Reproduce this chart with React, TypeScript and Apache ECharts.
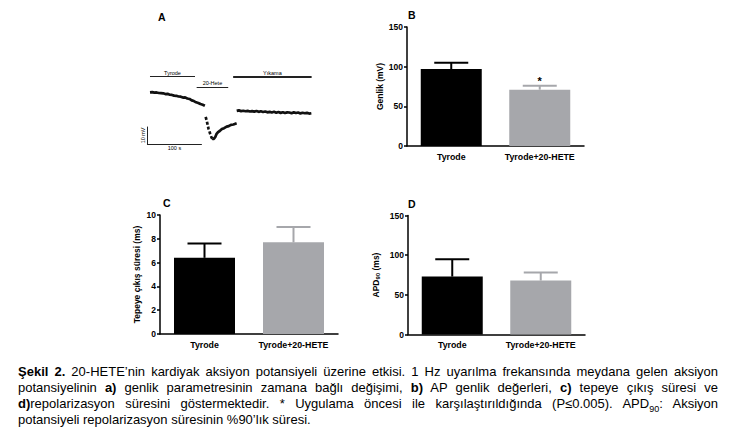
import * as echarts from "echarts";
import { useEffect, useRef } from "react";

const FONT = '"Liberation Sans", Arial, Helvetica, sans-serif';

// panel A: AP amplitude trace, [time (s), amplitude (mV)]
const controlTrace = [
  [0, 97.0], [4, 97.1], [8, 96.8], [12, 96.9], [16, 96.6], [20, 96.5], [24, 96.4],
  [28, 96.0], [32, 96.1], [36, 95.6], [40, 95.5], [44, 95.1], [48, 95.0], [52, 94.6],
  [56, 94.5], [60, 94.0], [64, 94.1], [68, 93.5], [72, 93.2], [76, 92.4], [80, 92.0],
  [84, 91.3], [88, 90.9], [92, 90.3], [96, 89.9], [100, 89.3],
];
const dropTrace = [
  [101.5, 83.0], [104, 80.0], [106.5, 76.5], [109.5, 73.6], [112, 71.4], [113.5, 70.6],
];
const recoveryTrace = [
  [113.5, 70.6], [115.3, 70.4], [117, 70.8], [119, 71.6], [121, 73.2], [124, 74.4],
  [127, 75.0], [131, 76.1], [135, 76.6], [139.7, 77.5], [143.5, 77.8], [147.5, 78.5],
  [152, 78.7], [157.9, 79.4],
];
const washTrace = [
  [158, 86.4], [162, 86.7], [166, 86.3], [170, 86.5], [174, 86.2], [178, 86.4],
  [182, 86.1], [186, 86.3], [190, 86.0], [194, 86.4], [198, 85.9], [202, 86.2],
  [206, 85.8], [210, 86.1], [214, 85.6], [218, 85.9], [222, 85.5], [226, 85.9],
  [230, 85.4], [234, 85.8], [238, 85.3], [242, 85.7], [246, 85.2], [250, 85.6],
  [254, 85.5], [258, 85.1], [262, 85.6], [266, 85.2], [270, 85.5], [274, 85.0],
  [278, 85.4], [282, 85.1], [286, 85.3], [290, 84.9], [294, 85.1],
];
// treatment periods: label, start (s), end (s), level (mV)
const periods: [string, number, number, number][] = [
  ["Tyrode", 0, 82, 105.9],
  ["20-Hete", 85, 142.5, 99.8],
  ["Yıkama", 151.5, 294.5, 105.9],
];
const scaleOrigin = [-5.5, 67.5];
const scaleTime = 100;
const scaleAmp = 10;

// panels B-D
const categories = ["Tyrode", "Tyrode+20-HETE"];
const amplitudeMean = [97, 71];
const amplitudeSem = [8, 5];
const amplitudeSig = ["", "*"];
const riseTimeMean = [6.4, 7.7];
const riseTimeSem = [1.2, 1.3];
const apdMean = [73, 68];
const apdSem = [22, 10];

const barColors = ["#000000", "#a6a7ab"];

const axisText = { fontFamily: FONT, fontWeight: "bold" as const, fontSize: 8.5, color: "#000" };
const blackLine = { color: "#000", width: 1.5 };

const xAxisFor = (gridIndex: number) => ({
  type: "category" as const,
  gridIndex,
  data: categories,
  axisLine: { lineStyle: blackLine },
  axisTick: { alignWithLabel: true, length: 3, lineStyle: blackLine },
  axisLabel: { ...axisText, fontSize: 8.8, margin: 6, interval: 0 },
});

const yAxisFor = (gridIndex: number, max: number, interval: number, name: string, nameGap: number) => ({
  type: "value" as const,
  gridIndex,
  min: 0,
  max,
  interval,
  name,
  nameLocation: "middle" as const,
  nameGap,
  nameTextStyle: {
    ...axisText,
    rich: { s: { ...axisText, fontSize: 6, verticalAlign: "bottom" as const, padding: [4, 0, 0, 0] } },
  },
  axisLine: { show: true, lineStyle: blackLine },
  axisTick: { show: true, length: 3, lineStyle: blackLine },
  axisLabel: { ...axisText, margin: 4 },
  splitLine: { show: false },
});

const barSeries = (index: number, values: number[]) => ({
  type: "bar" as const,
  xAxisIndex: index,
  yAxisIndex: index,
  barWidth: 61,
  data: values.map((v, i) => ({ value: v, itemStyle: { color: barColors[i] } })),
});

const errorSeries = (index: number, means: number[], sems: number[], marks?: string[]) => ({
  type: "custom" as const,
  xAxisIndex: index,
  yAxisIndex: index,
  z: 5,
  data: means.map((m, i) => [i, m, sems[i]]),
  renderItem: (params: any, api: any) => {
    const i = params.dataIndex;
    const mean = api.value(1);
    const err = api.value(2);
    const base = api.coord([api.value(0), mean]);
    const top = api.coord([api.value(0), mean + err]);
    const half = 17;
    const style = { stroke: barColors[i], lineWidth: 2 };
    const children: any[] = [
      { type: "line", shape: { x1: base[0], y1: base[1], x2: top[0], y2: top[1] }, style },
      { type: "line", shape: { x1: top[0] - half, y1: top[1], x2: top[0] + half, y2: top[1] }, style },
    ];
    if (marks && marks[i]) {
      children.push({
        type: "text",
        x: top[0],
        y: top[1] + 1,
        style: { text: marks[i], fill: "#000", font: `bold 11px ${FONT}`, align: "center", verticalAlign: "bottom" },
      });
    }
    return { type: "group", children };
  },
});

const letter = (text: string, left: number, top: number) => ({
  text,
  left,
  top,
  padding: 0,
  textStyle: { fontFamily: FONT, fontWeight: "bold" as const, fontSize: 10.5, color: "#000" },
});

const smallLabel = { fontFamily: FONT, fontSize: 5.5, color: "#000", distance: 1 };

const traceLine = (data: number[][], dashed = false) => ({
  type: "line" as const,
  xAxisIndex: 0,
  yAxisIndex: 0,
  data,
  showSymbol: false,
  lineStyle: { color: "#111", width: 2.7, type: dashed ? ([3, 2] as any) : "solid" },
});

export default function App() {
  const ref = useRef<HTMLDivElement>(null);

  useEffect(() => {
    const chart = echarts.init(ref.current!, null, { renderer: "svg" });
    const [sx, sy] = scaleOrigin;

    const option: any = {
      animation: false,
      backgroundColor: "#fff",
      title: [letter("A", 158, 11), letter("B", 408, 9), letter("C", 163, 197), letter("D", 408, 198)],
      grid: [
        { left: 144.5, top: 69.4, width: 167.4, height: 88, outerBoundsMode: "none" },
        { left: 407, top: 27, width: 177, height: 119, outerBoundsMode: "none" },
        { left: 160, top: 215, width: 178, height: 119, outerBoundsMode: "none" },
        { left: 408, top: 215.5, width: 177, height: 119, outerBoundsMode: "none" },
      ],
      xAxis: [
        { type: "value", gridIndex: 0, min: -10, max: 295, show: false },
        xAxisFor(1),
        xAxisFor(2),
        xAxisFor(3),
      ],
      yAxis: [
        { type: "value", gridIndex: 0, min: 60, max: 110, show: false },
        yAxisFor(1, 150, 50, "Genlik (mV)", 22),
        yAxisFor(2, 10, 2, "Tepeye çıkış süresi (ms)", 19),
        yAxisFor(3, 150, 50, "APD{s|90} (ms)", 27),
      ],
      series: [
        {
          ...traceLine(controlTrace),
          markLine: {
            silent: true,
            symbol: ["none", "none"],
            data: [
              ...periods.map(([name, start, end, level], i) => [
                {
                  coord: [start, level],
                  lineStyle: { color: "#222", width: i === 2 ? 2 : 1.2, type: "solid" },
                  label: { ...smallLabel, show: true, position: "insideMiddleTop", formatter: name },
                },
                { coord: [end, level] },
              ]),
              [
                {
                  coord: [sx, sy],
                  lineStyle: { color: "#222", width: 1, type: "solid" },
                  label: { ...smallLabel, show: true, position: "insideMiddleTop", formatter: `${scaleAmp} mV` },
                },
                { coord: [sx, sy + scaleAmp] },
              ],
              [
                {
                  coord: [sx, sy],
                  lineStyle: { color: "#222", width: 1, type: "solid" },
                  label: { ...smallLabel, show: true, position: "insideMiddleBottom", formatter: `${scaleTime} s` },
                },
                { coord: [sx + scaleTime, sy] },
              ],
            ],
          },
        },
        traceLine(dropTrace, true),
        traceLine(recoveryTrace),
        traceLine(washTrace),
        barSeries(1, amplitudeMean),
        errorSeries(1, amplitudeMean, amplitudeSem, amplitudeSig),
        barSeries(2, riseTimeMean),
        errorSeries(2, riseTimeMean, riseTimeSem),
        barSeries(3, apdMean),
        errorSeries(3, apdMean, apdSem),
      ],
    };
    chart.setOption(option);
    return () => chart.dispose();
  }, []);

  const lineStyle = { textAlign: "justify" as const, textAlignLast: "justify" as const, height: 16 };

  return (
    <div style={{ position: "absolute", left: 0, top: 0, width: 735, height: 438, background: "#fff" }}>
      <div ref={ref} style={{ position: "absolute", left: 0, top: 0, width: 735, height: 355 }} />
      <div
        style={{
          position: "absolute",
          left: 18,
          top: 364,
          width: 700,
          fontFamily: FONT,
          fontSize: 13,
          lineHeight: "16px",
          color: "#000",
        }}
      >
        <div style={lineStyle}>
          <b>Şekil 2.</b> 20-HETE’nin kardiyak aksiyon potansiyeli üzerine etkisi. 1 Hz uyarılma frekansında meydana gelen aksiyon
        </div>
        <div style={lineStyle}>
          potansiyelinin <b>a)</b> genlik parametresinin zamana bağlı değişimi, <b>b)</b> AP genlik değerleri, <b>c)</b> tepeye çıkış süresi ve
        </div>
        <div style={lineStyle}>
          <b>d)</b>repolarizasyon süresini göstermektedir. * Uygulama öncesi ile karşılaştırıldığında (P≤0.005). APD
          <sub style={{ fontSize: 9, lineHeight: 0 }}>90</sub>: Aksiyon
        </div>
        <div style={{ height: 16 }}>potansiyeli repolarizasyon süresinin %90’lık süresi.</div>
      </div>
    </div>
  );
}
